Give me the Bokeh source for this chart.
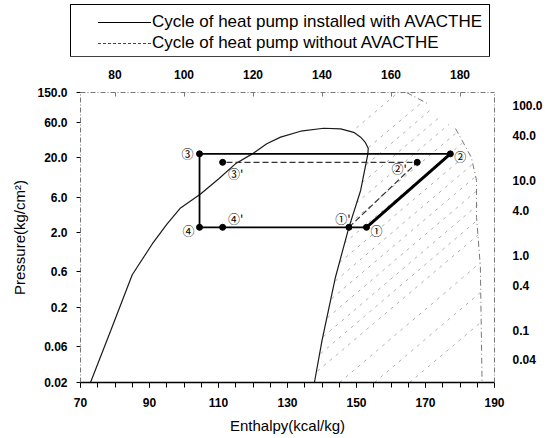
from bokeh.plotting import figure
from bokeh.layouts import column
from bokeh.models import (Range1d, LinearAxis, LogAxis, FixedTicker,
                          CustomJSTickFormatter, Div)
from bokeh.core.properties import value
from bokeh.embed import file_html
from bokeh.resources import INLINE

# ---------------- data ----------------
# saturation dome: liquid line -> top -> vapour line
dome_h = [72.9, 78.8, 85.0, 90.8, 95.0, 99.0, 104.8, 110.0, 114.9, 119.8, 124.0,
          128.0, 133.8, 140.5, 145.4, 149.2, 151.2, 152.6, 153.4, 153.3, 151.2,
          147.8, 143.9, 140.0, 137.8]
dome_p = [0.02, 0.1, 0.55, 1.42, 2.6, 4.3, 6.6, 10.5, 16.7, 22.7, 31.0,
          38.0, 45.6, 49.9, 49.0, 44.0, 37.9, 32.0, 27.0, 22.7, 7.36,
          2.37, 0.51, 0.0725, 0.02]

# cycle with AVACTHE: 1 -> 2 -> 3 -> 4 -> 1
cycle_h = [152.9, 177.2, 104.5, 104.5, 152.9]
cycle_p = [2.37, 22.7, 22.7, 2.37, 2.37]
cycle_lbl = ["①", "②", "③", "④"]

# cycle without AVACTHE: 1' -> 2' -> 3' (4' lies on line 4-1)
base_h = [147.8, 167.6, 111.2, 111.2]
base_p = [2.37, 17.5, 17.5, 2.37]
base_lbl = ["①'", "②'", "③'", "④'"]

# superheated-region hatching (start / end of each dashed line)
hatch_h0 = [150.0, 153.5, 152.9, 151.7, 150.0, 148.0, 146.5, 145.1, 143.9,
            142.8, 141.6, 140.4, 139.6, 138.7, 145.1, 155.2, 165.4]
hatch_p0 = [50.5, 27.6, 16.3, 9.39, 5.01, 2.66, 1.46, 0.80, 0.456,
            0.264, 0.147, 0.082, 0.0486, 0.0284, 0.02, 0.02, 0.02]
hatch_h1 = [161.9, 169.4, 172.0, 174.3, 176.8, 179.0, 180.6, 182.1, 183.5,
            184.6, 185.1, 185.1, 185.2, 185.4, 185.9, 185.9, 185.9]
hatch_p1 = [147.7, 115.5, 92.2, 71.6, 56.4, 43.8, 31.4, 22.7, 16.3,
            11.4, 7.44, 4.70, 3.0, 1.90, 0.80, 0.318, 0.126]

# outer boundary of the hatched region (two dash-dot pieces)
bnd_a_h = [164.5, 170.6]
bnd_a_p = [150.0, 106.9]
bnd_b_h = [178.7, 183.3, 184.8, 184.8, 185.9, 186.4]
bnd_b_p = [49.5, 20.3, 9.99, 3.2, 0.708, 0.02]

bottom_ticks = [70, 90, 110, 130, 150, 170, 190]
bottom_minor = list(range(70, 191, 5))
top_ticks = [80, 100, 120, 140, 160, 180]
left_ticks = [0.02, 0.06, 0.2, 0.6, 2.0, 6.0, 20.0, 60.0, 150.0]
right_ticks = [0.04, 0.1, 0.4, 1.0, 4.0, 10.0, 40.0, 100.0]

legend_labels = ["Cycle of heat pump installed with AVACTHE",
                 "Cycle of heat pump without AVACTHE"]

FONT = "Liberation Sans"

# ---------------- legend strip (HTML box above the chart) ----------------
row_css = ("position:absolute;left:27px;height:20px;display:flex;"
           "align-items:center;white-space:nowrap;")
legend_html = (
    '<div style="position:relative;width:550px;height:56px;">'
    '<div style="position:absolute;left:70px;top:4px;width:420px;height:53px;'
    'border:1.5px solid black;background:white;font-family:\'Liberation Sans\';'
    'font-size:17px;color:black;">'
    f'<div style="{row_css}top:7px;">'
    '<span style="display:inline-block;width:53px;border-top:1.3px solid black;'
    f'margin-right:1px;"></span>{legend_labels[0]}</div>'
    f'<div style="{row_css}top:28px;">'
    '<span style="display:inline-block;width:53px;border-top:1px dashed #444;'
    f'margin-right:1px;"></span>{legend_labels[1]}</div>'
    '</div></div>'
)
legend_div = Div(text=legend_html, width=550, height=56, margin=0)

# ---------------- main chart ----------------
p = figure(width=550, height=380, output_backend="svg", toolbar_location=None,
           x_range=Range1d(70, 190), y_range=Range1d(0.02, 150),
           y_axis_type="log", min_border_left=80, min_border_right=56,
           min_border_top=36, min_border_bottom=54)
p.grid.visible = False
p.outline_line_color = None
p.background_fill_color = "white"

fmt = CustomJSTickFormatter(code="return tick < 0.095 ? tick.toFixed(2) : tick.toFixed(1);")

def style_labels(ax):
    ax.major_label_text_font = FONT
    ax.major_label_text_font_style = "bold"
    ax.major_label_text_font_size = "12px"
    ax.major_label_text_color = "black"
    ax.axis_label_text_font = FONT
    ax.axis_label_text_font_style = "normal"
    ax.axis_label_text_font_size = "15px"
    ax.axis_label_text_color = "black"

xb = p.xaxis[0]
xb.ticker = FixedTicker(ticks=bottom_ticks, minor_ticks=bottom_minor)
xb.axis_label = "Enthalpy(kcal/kg)"
style_labels(xb)
xb.axis_line_width = 1.5
xb.major_tick_out = 5
xb.major_tick_in = 0
xb.minor_tick_out = 5
xb.minor_tick_in = 0
xb.major_label_standoff = 10
xb.axis_label_standoff = 7

yl = p.yaxis[0]
yl.ticker = FixedTicker(ticks=left_ticks)
yl.formatter = fmt
yl.axis_label = "Pressure(kg/cm²)"
style_labels(yl)
yl.axis_line_color = "#777777"
yl.axis_line_dash = "5 2 1 2"
yl.major_tick_out = 4
yl.major_tick_in = 0
yl.minor_tick_line_color = None
yl.major_label_standoff = 9
yl.axis_label_standoff = 6

xt = LinearAxis(ticker=FixedTicker(ticks=top_ticks))
style_labels(xt)
xt.axis_line_color = "#777777"
xt.axis_line_dash = "5 2 1 2"
xt.major_tick_out = 0
xt.major_tick_in = 4
xt.major_tick_line_color = "#777777"
xt.minor_tick_line_color = None
xt.major_label_standoff = 14
p.add_layout(xt, "above")

yr = LogAxis(ticker=FixedTicker(ticks=right_ticks), formatter=fmt)
style_labels(yr)
yr.axis_line_color = "#777777"
yr.axis_line_dash = "5 2 1 2"
yr.major_tick_line_color = None
yr.minor_tick_line_color = None
yr.major_label_standoff = 12
p.add_layout(yr, "right")

# hatching and its boundary
p.segment(x0=hatch_h0, y0=hatch_p0, x1=hatch_h1, y1=hatch_p1,
          line_color="#a8a8a8", line_width=0.9, line_dash="3 5")
p.line(bnd_a_h, bnd_a_p, line_color="#777777", line_width=1, line_dash="6 3 1 3")
p.line(bnd_b_h, bnd_b_p, line_color="#777777", line_width=1, line_dash="6 3 1 3")

# saturation dome
p.line(dome_h, dome_p, line_color="#1a1a1a", line_width=1.2)

# cycles
p.line(base_h[:3], base_p[:3], line_color="#333333", line_width=1.2, line_dash="6 3")
p.line(cycle_h, cycle_p, line_color="black", line_width=1.8)
p.line(cycle_h[:2], cycle_p[:2], line_color="black", line_width=3)
p.scatter(cycle_h[:4], cycle_p[:4], size=6, color="black")
p.scatter(base_h, base_p, size=6, color="black")

CFONT = value("Noto Sans CJK JP")
p.text(x=cycle_h[:4], y=cycle_p[:4], text=cycle_lbl,
       x_offset=[10, 10, -12, -11], y_offset=[3, 3, 0, 3],
       text_font=CFONT, text_font_size="12px", text_align="center",
       text_baseline="middle", text_color="black")
p.text(x=base_h, y=base_p, text=base_lbl,
       x_offset=[-6, -18, 13, 13], y_offset=[-9, 6, 11, -9],
       text_font=CFONT, text_font_size="12px", text_align="center",
       text_baseline="middle", text_color="black")

layout = column(legend_div, p, spacing=0)
open("out.html", "w").write(file_html(layout, INLINE))
